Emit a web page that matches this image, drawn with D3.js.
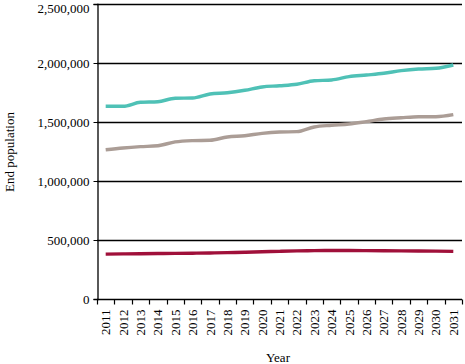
<!DOCTYPE html>
<html><head><meta charset="utf-8">
<script src="https://cdn.jsdelivr.net/npm/d3@7"></script>
<style>body{margin:0;background:#fff}svg{display:block}</style>
</head><body>
<svg id="c" width="465" height="364"></svg>
<script>
const years = ["2011","2012","2013","2014","2015","2016","2017","2018","2019","2020","2021","2022","2023","2024","2025","2026","2027","2028","2029","2030","2031"];
const seriesTeal = [1633000,1633000,1667000,1672000,1701000,1703000,1737000,1748000,1769000,1797000,1807000,1820000,1850000,1856000,1884000,1898000,1913000,1935000,1949000,1955000,1983000];
const seriesGrey = [1265000,1280000,1291000,1299000,1331000,1342000,1345000,1373000,1384000,1404000,1415000,1418000,1458000,1472000,1483000,1503000,1525000,1536000,1545000,1545000,1562000];
const seriesRed = [380000,382000,384000,385000,387000,388000,390000,393000,396000,400000,404000,408000,410000,411000,411000,410000,409000,408000,407000,406000,404000];
const yTicks = [0,500000,1000000,1500000,2000000,2500000];
const series = [
  {name:"teal", values:seriesTeal, color:"#4fc1b6"},
  {name:"grey", values:seriesGrey, color:"#ab9d96"},
  {name:"red", values:seriesRed, color:"#a0103a"}
];

const svg = d3.select("#c");
const m = {left:97, right:462, top:4, bottom:299};
const x = d3.scaleBand().domain(years).range([m.left, m.right]);
const y = d3.scaleLinear().domain([0,2500000]).range([m.bottom, m.top]);
const font = "'Liberation Serif', 'Times New Roman', serif";

// gridlines
svg.append("g").selectAll("line").data(yTicks.filter(d=>d>0)).join("line")
  .attr("x1", m.left).attr("x2", m.right)
  .attr("y1", d=>Math.round(y(d))+0.5).attr("y2", d=>Math.round(y(d))+0.5)
  .attr("stroke","#000").attr("stroke-width",1.3);

// y axis
const ya = svg.append("g").attr("transform",`translate(${m.left+0.5},0)`)
  .call(d3.axisLeft(y).tickValues(yTicks).tickFormat(d3.format(",")).tickSize(4).tickPadding(4));
ya.select(".domain").attr("stroke","#000").attr("stroke-width",1.3);
ya.selectAll("text").attr("font-family",font).attr("font-size",13).attr("fill","#000")
  .attr("dy", d => d === 2500000 ? "0.62em" : "0.32em");

// x axis
const xa = svg.append("g").attr("transform",`translate(0,${m.bottom+0.5})`)
  .call(d3.axisBottom(x).tickSize(0).tickPadding(0));
xa.select(".domain").attr("stroke","#000").attr("stroke-width",1.3).attr("d",`M${m.left},0H${m.right}`);
xa.selectAll(".tick text")
  .attr("font-family",font).attr("font-size",13).attr("fill","#000")
  .attr("transform","rotate(-90)").attr("text-anchor","end")
  .attr("x",-10).attr("y",0).attr("dy","0.35em");
// boundary ticks
const bounds = years.map(d=>x(d)).concat([x(years[years.length-1])+x.bandwidth()]);
xa.append("g").selectAll("line").data(bounds).join("line")
  .attr("x1",d=>Math.round(d)+0.5).attr("x2",d=>Math.round(d)+0.5)
  .attr("y1",0).attr("y2",5).attr("stroke","#000").attr("stroke-width",1.2);

// lines
const line = d3.line().x((d,i)=>x(years[i])+x.bandwidth()/2).y(d=>y(d)).curve(d3.curveMonotoneX);
svg.append("g").selectAll("path").data(series).join("path")
  .attr("d",d=>line(d.values)).attr("fill","none")
  .attr("stroke",d=>d.color).attr("stroke-width",3.4).attr("stroke-linecap","butt");

// axis titles
svg.append("text").attr("x",278).attr("y",362).attr("text-anchor","middle")
  .attr("font-family",font).attr("font-size",13).text("Year");
svg.append("text").attr("transform","translate(14,152) rotate(-90)").attr("text-anchor","middle")
  .attr("font-family",font).attr("font-size",13).text("End population");
</script>
</body></html>
